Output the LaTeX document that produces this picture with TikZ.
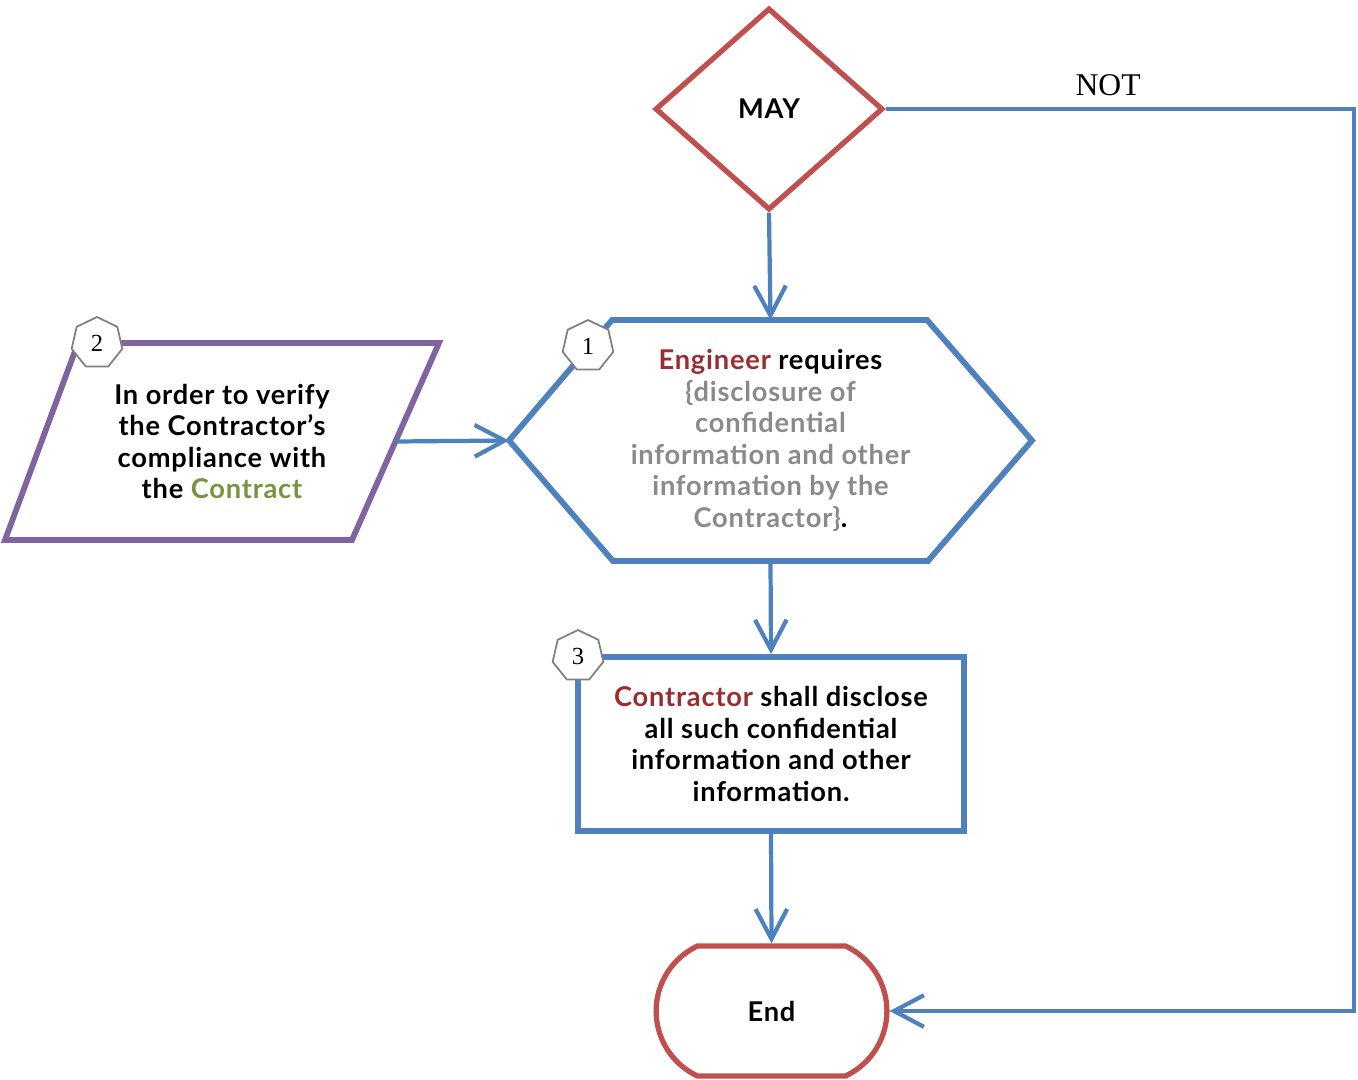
\documentclass[tikz,border=0pt]{standalone}
\usepackage{fontspec}
\setmainfont{Lato}[LetterSpace=3]
\newfontfamily\numfont{Liberation Serif}
\usetikzlibrary{shapes.geometric,shapes.misc,arrows.meta,positioning}
\definecolor{mayred}{HTML}{C0504D}
\definecolor{flowblue}{HTML}{4F81BD}
\definecolor{verifypurple}{HTML}{8064A2}
\definecolor{partyred}{HTML}{9B2D30}
\definecolor{contractgreen}{HTML}{77933C}
\definecolor{txtgray}{HTML}{8A8A8A}

\begin{document}
\begin{tikzpicture}[x=0.02cm,y=-0.02cm,
   every node/.style={font=\bfseries\fontsize{15.5}{18}\selectfont,align=center},
   flow/.style={draw=flowblue,line width=2.4pt,-{Straight Barb[length=17pt,width=18pt]}},
   badge/.style={regular polygon,regular polygon sides=7,draw=gray,fill=white,line width=1pt,
     minimum size=1.04cm,inner sep=0pt,font=\numfont\fontsize{14}{14}\selectfont}]
  \useasboundingbox (0,0) rectangle (1358,1079);
  \node[diamond,draw=mayred,line width=3pt,minimum width=4.56cm,minimum height=4.04cm,inner sep=0pt] (may) at (769,109) {MAY};
  \node[minimum width=10.46cm,minimum height=4.82cm,outer sep=0pt] (req) at (770.5,440.5)
    {\textcolor{partyred}{Engineer} requires\\ \textcolor{txtgray}{\{disclosure of}\\ \textcolor{txtgray}{confidential}\\
     \textcolor{txtgray}{information and other}\\ \textcolor{txtgray}{information by the}\\ \textcolor{txtgray}{Contractor\}}.};
  \draw[flowblue,line width=3.3pt] (req.west) -- ++(103,-120.5) -- ++(315,0) -- (req.east)
    -- ++(-104,120.5) -- ++(-315,0) -- cycle;
  \node[minimum width=8.68cm,minimum height=3.94cm,outer sep=0pt] (verify) at (222,441.5)
    {In order to verify\\ the Contractor’s\\ compliance with\\ the \textcolor{contractgreen}{Contract}};
  \draw[verifypurple,line width=3.3pt] (verify.south west) -- ++(73,-197) -- (verify.north east)
    -- ++(-87,197) -- cycle;
  \coordinate (verifyout) at (395.5,441.5);
  \node[draw=flowblue,line width=3.3pt,minimum width=7.72cm,minimum height=3.48cm] (disc) at (771,744)
    {\textcolor{partyred}{Contractor} shall disclose\\ all such confidential\\ information and other\\ information.};
  \node[rounded rectangle,rounded rectangle arc length=130,draw=mayred,line width=3pt,
    minimum width=4.85cm,minimum height=2.6cm] (fin) at (771.5,1011) {End};
  \coordinate (notturn) at (1354,109);
  \draw[flow] (may.south) -- (req.north);
  \draw[flow] (req.south) -- (disc.north);
  \draw[flow] (disc.south) -- (fin.north);
  \draw[flow] (verifyout) -- (req.west);
  \draw[flow] (may.east) -- node[above,pos=0.475,yshift=3pt,font=\numfont\fontsize{18}{18}\selectfont] {NOT} (notturn) |- (fin.east);
  \node[badge] (b1) at (588,346) {1};
  \node[badge] (b2) at (97,343) {2};
  \node[badge] (b3) at (578,656) {3};
\end{tikzpicture}
\end{document}
